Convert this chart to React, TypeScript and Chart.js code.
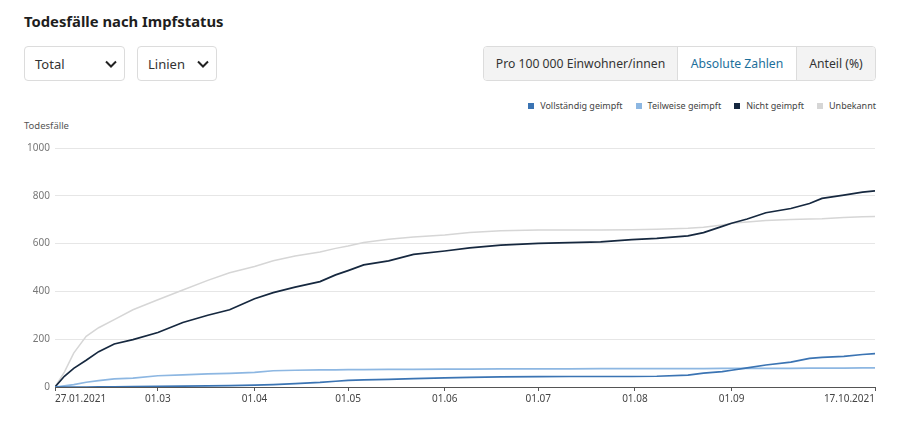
import React, { useEffect, useRef } from "react";
import { Chart, registerables } from "chart.js";

Chart.register(...registerables);

// Day index counted from 27.01.2021
const days = [0, 3, 6, 10, 14, 19, 25, 33, 41, 49, 56, 64, 70, 77, 85, 90, 94, 99, 107, 115, 125, 133, 143, 155, 165, 175, 185, 193, 203, 208, 214, 217, 222, 228, 236, 242, 246, 253, 259, 263];

const vollstaendig = [0, 0, 0, 0, 1, 1, 2, 3, 4, 5, 6, 8, 10, 14, 19, 24, 28, 30, 32, 35, 38, 40, 42, 43, 44, 44, 44, 45, 50, 58, 64, 70, 80, 92, 104, 120, 124, 128, 136, 140];
const teilweise = [0, 5, 10, 20, 27, 34, 37, 47, 51, 55, 57, 61, 68, 70, 72, 72, 73, 73, 74, 74, 75, 75, 76, 76, 76, 77, 77, 77, 77, 77, 78, 78, 78, 78, 78, 79, 79, 79, 80, 80];
const nichtGeimpft = [0, 45, 78, 112, 148, 180, 198, 228, 270, 300, 323, 369, 395, 418, 441, 469, 487, 511, 528, 555, 569, 582, 594, 601, 604, 607, 617, 622, 632, 646, 672, 685, 703, 729, 747, 768, 789, 803, 815, 821];
const unbekannt = [0, 62, 142, 212, 248, 282, 323, 365, 406, 446, 478, 504, 528, 548, 565, 580, 590, 605, 618, 628, 636, 646, 654, 657, 657, 657, 658, 660, 664, 668, 678, 685, 690, 697, 701, 703, 704, 709, 712, 713];

const tickDays = [0, 33, 64, 94, 125, 155, 186, 217, 263];
const tickLabels = ["27.01.2021", "01.03", "01.04", "01.05", "01.06", "01.07", "01.08", "01.09", "17.10.2021"];

const seriesNames = ["Vollständig geimpft", "Teilweise geimpft", "Nicht geimpft", "Unbekannt"];
const seriesColors = ["#3b74b3", "#8db7e2", "#16283f", "#d6d6d6"];
const seriesValues = [vollstaendig, teilweise, nichtGeimpft, unbekannt];

const FONT = "'Noto Sans', 'Open Sans', sans-serif";

function Select({ left, width, label }: { left: number; width: number; label: string }) {
  return (
    <div
      style={{
        position: "absolute",
        left,
        top: 46,
        width,
        height: 35,
        boxSizing: "border-box",
        border: "1px solid #dcdcdc",
        borderRadius: 4,
        background: "#fff",
        display: "flex",
        alignItems: "center",
        paddingLeft: 10,
        fontSize: 13,
        color: "#333",
      }}
    >
      {label}
      <svg
        width="12"
        height="8"
        viewBox="0 0 12 8"
        style={{ position: "absolute", right: 7, top: 13 }}
      >
        <path d="M1 1.5 L6 6.5 L11 1.5" stroke="#222" strokeWidth="2" fill="none" />
      </svg>
    </div>
  );
}

export default function App() {
  const canvasRef = useRef<HTMLCanvasElement | null>(null);

  useEffect(() => {
    if (!canvasRef.current) return;
    const chart = new Chart(canvasRef.current, {
      type: "line",
      data: {
        datasets: seriesNames.map((name, i) => ({
          label: name,
          data: days.map((d, j) => ({ x: d, y: seriesValues[i][j] })),
          borderColor: seriesColors[i],
          backgroundColor: seriesColors[i],
          borderWidth: i === 3 ? 1.5 : 1.7,
          pointRadius: 0,
          tension: 0,
          fill: false,
        })),
      },
      options: {
        animation: false,
        responsive: false,
        maintainAspectRatio: false,
        layout: { padding: { top: 18, right: 25, left: 0, bottom: 0 } },
        plugins: {
          legend: { display: false },
          tooltip: { enabled: false },
        },
        scales: {
          x: {
            type: "linear",
            min: 0,
            max: 263,
            afterBuildTicks: (scale: any) => {
              scale.ticks = tickDays.map((v) => ({ value: v }));
            },
            afterFit: (scale: any) => {
              scale.height = 28;
            },
            ticks: {
              autoSkip: false,
              maxRotation: 0,
              align: "inner",
              padding: 2,
              color: "#444",
              font: { family: FONT, size: 10 },
              callback: (v: any) => {
                const idx = tickDays.indexOf(Number(v));
                return idx >= 0 ? tickLabels[idx] : "";
              },
            },
            grid: {
              drawOnChartArea: false,
              drawTicks: true,
              tickLength: 4,
              color: "#555",
            },
            border: { display: true, color: "#555", width: 1 },
          },
          y: {
            min: 0,
            max: 1000,
            afterFit: (scale: any) => {
              scale.width = 55;
            },
            ticks: {
              stepSize: 200,
              padding: 5,
              color: "#777",
              font: { family: FONT, size: 10 },
              callback: (v: any) => String(v),
            },
            grid: {
              color: (ctx: any) => (ctx.tick && ctx.tick.value === 0 ? "#555" : "#e6e6e6"),
              drawTicks: false,
            },
            border: { display: false },
          },
        },
      },
    } as any);
    return () => chart.destroy();
  }, []);

  return (
    <div
      style={{
        position: "absolute",
        left: 0,
        top: 0,
        width: 900,
        height: 430,
        background: "#fff",
        fontFamily: FONT,
        overflow: "hidden",
      }}
    >
      <div
        style={{
          position: "absolute",
          left: 24,
          top: 11,
          fontSize: 14.8,
          fontWeight: 700,
          color: "#1e1e1e",
          lineHeight: "20px",
        }}
      >
        Todesfälle nach Impfstatus
      </div>

      <Select left={24} width={101} label="Total" />
      <Select left={137} width={80} label="Linien" />

      <div
        style={{
          position: "absolute",
          left: 483,
          top: 46,
          width: 393,
          height: 35,
          boxSizing: "border-box",
          border: "1px solid #dcdcdc",
          borderRadius: 4,
          display: "flex",
          overflow: "hidden",
          fontSize: 12.2,
        }}
      >
        <div style={{ width: 193, background: "#f3f3f3", color: "#333", display: "flex", alignItems: "center", justifyContent: "center" }}>
          Pro 100 000 Einwohner/innen
        </div>
        <div style={{ width: 118, background: "#fff", color: "#1d6f9b", display: "flex", alignItems: "center", justifyContent: "center", borderLeft: "1px solid #dcdcdc", borderRight: "1px solid #dcdcdc" }}>
          Absolute Zahlen
        </div>
        <div style={{ flex: 1, background: "#f3f3f3", color: "#333", display: "flex", alignItems: "center", justifyContent: "center" }}>
          Anteil (%)
        </div>
      </div>

      <div
        style={{
          position: "absolute",
          right: 24,
          top: 99,
          display: "flex",
          alignItems: "center",
          fontSize: 9,
          color: "#444",
          lineHeight: "14px",
        }}
      >
        {seriesNames.map((name, i) => (
          <div key={name} style={{ display: "flex", alignItems: "center", marginLeft: i === 0 ? 0 : 13 }}>
            <span style={{ display: "inline-block", width: 6, height: 6, background: seriesColors[i], marginRight: 6 }} />
            {name}
          </div>
        ))}
      </div>

      <div style={{ position: "absolute", left: 24, top: 119, fontSize: 9.5, color: "#555", lineHeight: "14px" }}>
        Todesfälle
      </div>

      <canvas
        ref={canvasRef}
        width={900}
        height={285}
        style={{ position: "absolute", left: 0, top: 130, width: 900, height: 285 }}
      />
    </div>
  );
}
